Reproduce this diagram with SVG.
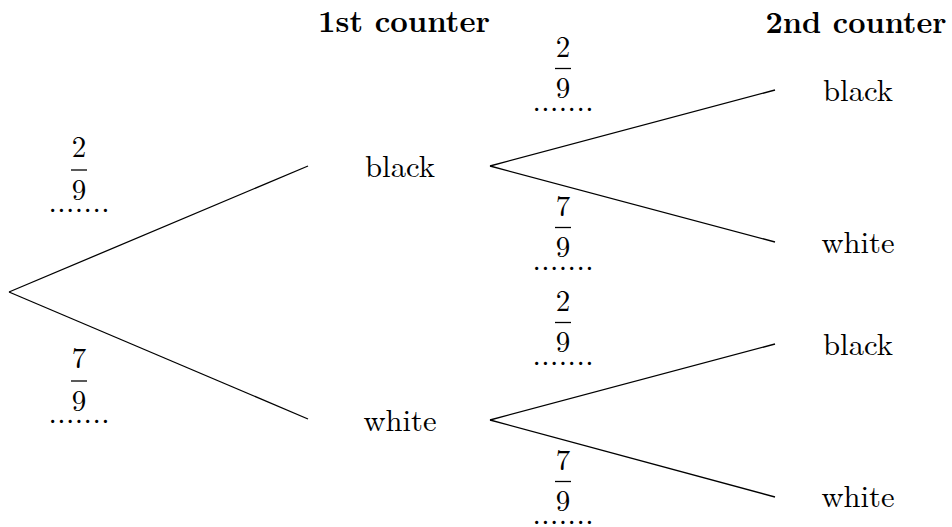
<svg xmlns="http://www.w3.org/2000/svg" width="952" height="527" viewBox="0 0 952 527">
<style>
.t{font-family:"Latin Modern Roman","CMU Serif","Noto Serif","Liberation Serif","Tinos","FreeSerif","Nimbus Roman","DejaVu Serif","Times New Roman",serif}
.lbl{font-size:30px;text-anchor:middle}
.hdr{font-size:30px;font-weight:bold;text-anchor:middle}
.num{font-size:29px;text-anchor:middle}
.dots{font-size:30px;text-anchor:middle}
.bar{stroke:#000;stroke-width:1.3}
.edge{stroke:#000;stroke-width:1.3;fill:none}
</style>
<rect width="952" height="527" fill="#fff"/>
<g class="t" fill="#000">
<g id="headers">
<text class="hdr" x="404" y="32" textLength="172" lengthAdjust="spacingAndGlyphs">1st counter</text>
<text class="hdr" x="856" y="33" textLength="181" lengthAdjust="spacingAndGlyphs">2nd counter</text>
</g>
<g id="connectors">
<line class="edge" x1="9" y1="292" x2="308" y2="166"/>
<line class="edge" x1="9" y1="292" x2="308" y2="419"/>
<line class="edge" x1="490" y1="166" x2="775" y2="90"/>
<line class="edge" x1="490" y1="166" x2="775" y2="242"/>
<line class="edge" x1="490" y1="420" x2="775" y2="344"/>
<line class="edge" x1="490" y1="420" x2="775" y2="497"/>
</g>
<g id="node-black1"><text class="lbl" x="400" y="177" textLength="70" lengthAdjust="spacingAndGlyphs">black</text></g>
<g id="node-white1"><text class="lbl" x="400" y="431" textLength="73" lengthAdjust="spacingAndGlyphs">white</text></g>
<g id="node-black-black"><text class="lbl" x="858" y="101" textLength="70" lengthAdjust="spacingAndGlyphs">black</text></g>
<g id="node-black-white"><text class="lbl" x="858" y="253" textLength="73" lengthAdjust="spacingAndGlyphs">white</text></g>
<g id="node-white-black"><text class="lbl" x="858" y="355" textLength="70" lengthAdjust="spacingAndGlyphs">black</text></g>
<g id="node-white-white"><text class="lbl" x="858" y="507" textLength="73" lengthAdjust="spacingAndGlyphs">white</text></g>
<g id="prob-b" transform="translate(79,137)">
<text class="num" x="0" y="20">2</text><line class="bar" x1="-8" y1="33" x2="8" y2="33"/><text class="num" x="0" y="63">9</text>
<text class="dots" x="0" y="74.5" textLength="61">.......</text>
</g>
<g id="prob-w" transform="translate(79,348)">
<text class="num" x="0" y="20">7</text><line class="bar" x1="-8" y1="33" x2="8" y2="33"/><text class="num" x="0" y="63">9</text>
<text class="dots" x="0" y="74.5" textLength="61">.......</text>
</g>
<g id="prob-bb" transform="translate(563,36)">
<text class="num" x="0" y="21">2</text><line class="bar" x1="-8" y1="32.5" x2="8" y2="32.5"/><text class="num" x="0" y="62">9</text>
<text class="dots" x="0" y="74.5" textLength="61">.......</text>
</g>
<g id="prob-bw" transform="translate(563,195)">
<text class="num" x="0" y="21">7</text><line class="bar" x1="-8" y1="32.5" x2="8" y2="32.5"/><text class="num" x="0" y="62">9</text>
<text class="dots" x="0" y="74.5" textLength="61">.......</text>
</g>
<g id="prob-wb" transform="translate(563,290)">
<text class="num" x="0" y="21">2</text><line class="bar" x1="-8" y1="32.5" x2="8" y2="32.5"/><text class="num" x="0" y="62">9</text>
<text class="dots" x="0" y="74.5" textLength="61">.......</text>
</g>
<g id="prob-ww" transform="translate(563,449)">
<text class="num" x="0" y="21">7</text><line class="bar" x1="-8" y1="32.5" x2="8" y2="32.5"/><text class="num" x="0" y="62">9</text>
<text class="dots" x="0" y="74.5" textLength="61">.......</text>
</g>
</g>
</svg>
